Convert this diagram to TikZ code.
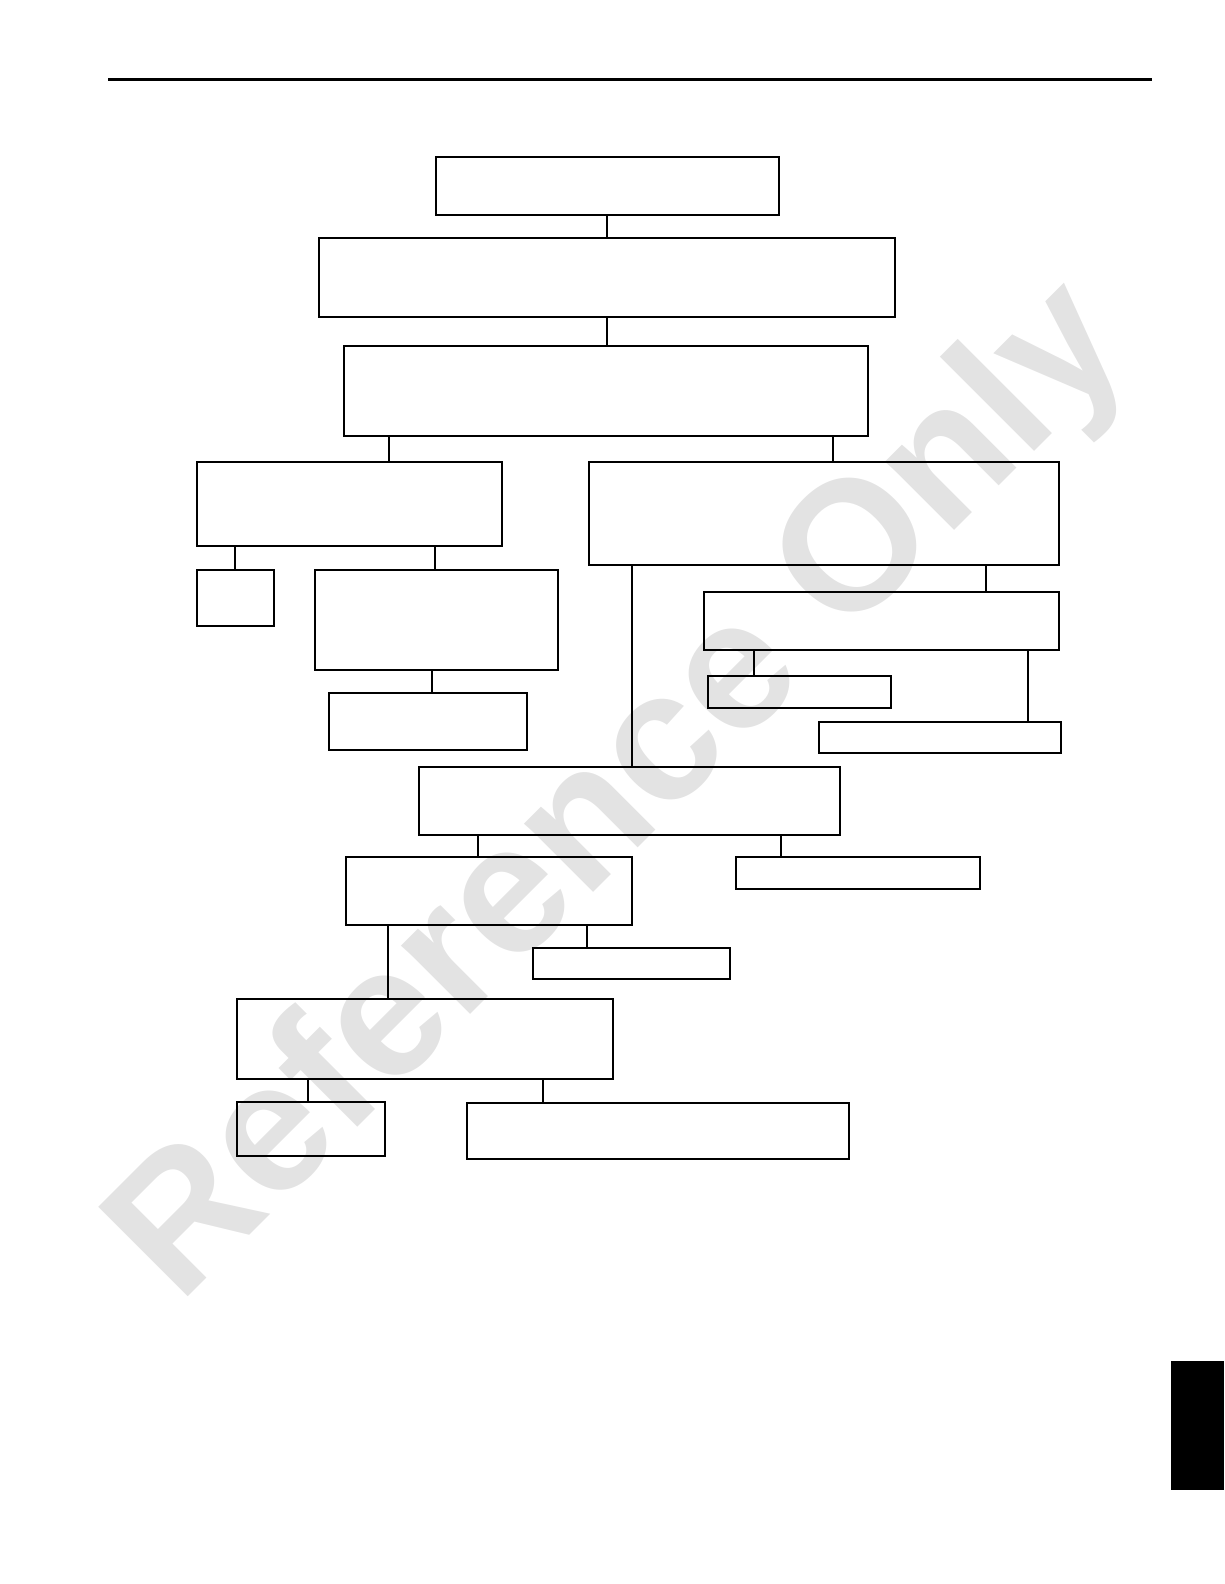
\documentclass[tikz,border=0pt]{standalone}
\usepackage{fontspec}
\setmainfont{Liberation Sans}
\begin{document}
\begin{tikzpicture}[x=1pt,y=-1pt,
  box/.style={draw=black,line width=2pt,rectangle,inner sep=0pt,outer sep=0pt},
  link/.style={draw=black,line width=1.6pt},
  watermark/.style={text=black!11,font=\bfseries\fontsize{184}{190}\selectfont,rotate=45,inner sep=0pt}]
\useasboundingbox (0,0) rectangle (1224,1584);
% watermark
\node[watermark] (wm) at (623,795) {Reference Only};
% header rule and side tab
\draw[line width=3pt] (108,79.8) -- (1152,79.8);
\fill[black] (1171,1361) rectangle (1224,1490);
% boxes
\node[box,minimum width=343,minimum height=58] (b1) at (607.5,186) {};
\node[box,minimum width=576,minimum height=79] (b2) at (607,277.5) {};
\node[box,minimum width=524,minimum height=90] (b3) at (606,391) {};
\node[box,minimum width=305,minimum height=84] (b4) at (349.5,504) {};
\node[box,minimum width=470,minimum height=103] (b5) at (824,513.5) {};
\node[box,minimum width=77,minimum height=56] (b6) at (235.5,598) {};
\node[box,minimum width=243,minimum height=100] (b7) at (436.5,620) {};
\node[box,minimum width=198,minimum height=57] (b8) at (428,721.5) {};
\node[box,minimum width=355,minimum height=58] (b10) at (881.5,621) {};
\node[box,minimum width=183,minimum height=32] (b11) at (799.5,692) {};
\node[box,minimum width=242,minimum height=31] (b12) at (940,737.5) {};
\node[box,minimum width=421,minimum height=68] (b9) at (629.5,801) {};
\node[box,minimum width=286,minimum height=68] (b13) at (489,891) {};
\node[box,minimum width=244,minimum height=32] (b14) at (858,873) {};
\node[box,minimum width=197,minimum height=31] (b16) at (631.5,963.5) {};
\node[box,minimum width=376,minimum height=80] (b15) at (425,1039) {};
\node[box,minimum width=148,minimum height=54] (b17) at (311,1129) {};
\node[box,minimum width=382,minimum height=56] (b18) at (658,1131) {};
% connectors
\draw[link] (b1.south -| 607,0) -- (b2.north -| 607,0);
\draw[link] (b2.south -| 607,0) -- (b3.north -| 607,0);
\draw[link] (b3.south -| 389,0) -- (b4.north -| 389,0);
\draw[link] (b3.south -| 833,0) -- (b5.north -| 833,0);
\draw[link] (b4.south -| 235,0) -- (b6.north -| 235,0);
\draw[link] (b4.south -| 435,0) -- (b7.north -| 435,0);
\draw[link] (b7.south -| 432,0) -- (b8.north -| 432,0);
\draw[link] (b5.south -| 632,0) -- (b9.north -| 632,0);
\draw[link] (b5.south -| 986,0) -- (b10.north -| 986,0);
\draw[link] (b10.south -| 754,0) -- (b11.north -| 754,0);
\draw[link] (b10.south -| 1028,0) -- (b12.north -| 1028,0);
\draw[link] (b9.south -| 478,0) -- (b13.north -| 478,0);
\draw[link] (b9.south -| 781,0) -- (b14.north -| 781,0);
\draw[link] (b13.south -| 388,0) -- (b15.north -| 388,0);
\draw[link] (b13.south -| 587,0) -- (b16.north -| 587,0);
\draw[link] (b15.south -| 308,0) -- (b17.north -| 308,0);
\draw[link] (b15.south -| 543,0) -- (b18.north -| 543,0);
\end{tikzpicture}
\end{document}
